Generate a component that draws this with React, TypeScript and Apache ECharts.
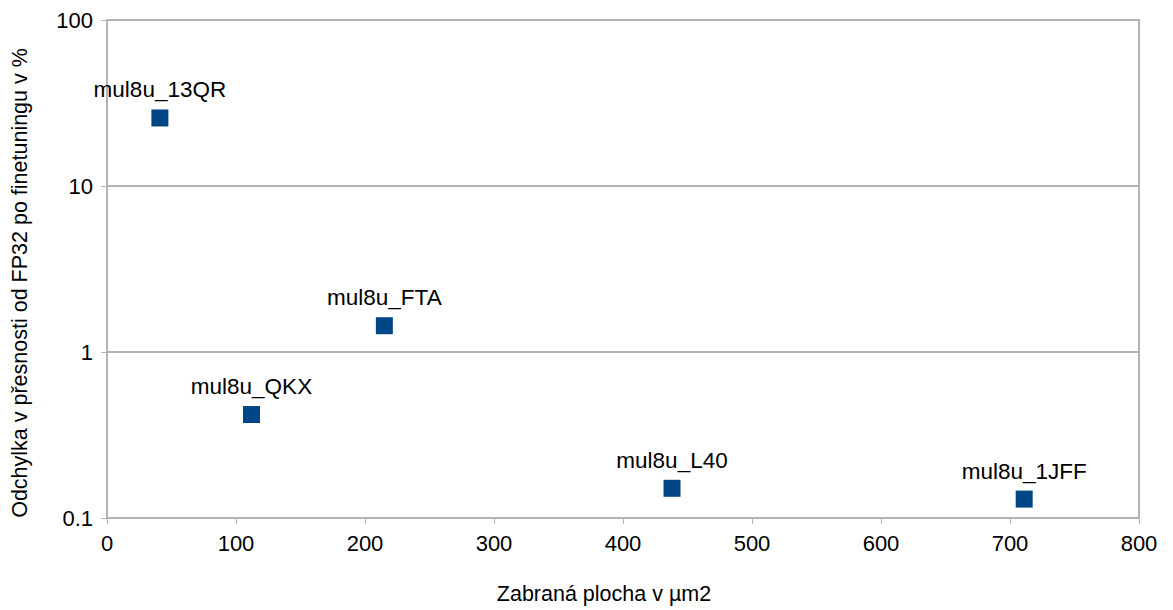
import React, { useEffect, useRef } from "react";
import * as echarts from "echarts";

// Multiplier variants: occupied area (µm2) vs. accuracy deviation after finetuning (%)
const names = ["mul8u_13QR", "mul8u_QKX", "mul8u_FTA", "mul8u_L40", "mul8u_1JFF"];
const areas = [41, 112, 215, 438, 711];
const deviations = [25.7, 0.42, 1.44, 0.151, 0.13];

const xTicks = { min: 0, max: 800, interval: 100 };
const yRange = { min: 0.1, max: 100 };

const xTitle = "Zabraná plocha v µm2";
const yTitle = "Odchylka v přesnosti od FP32 po finetuningu v %";

const FONT = "'Liberation Sans', Arial, sans-serif";
const GRID_GRAY = "#b3b3b3";

export default function App() {
  const ref = useRef<HTMLDivElement>(null);

  useEffect(() => {
    if (!ref.current) return;
    const chart = echarts.init(ref.current, undefined, { renderer: "svg" });
    const points = areas.map((a, i) => ({ value: [a, deviations[i]], name: names[i] }));
    chart.setOption({
      animation: false,
      backgroundColor: "#ffffff",
      textStyle: { fontFamily: FONT },
      grid: {
        left: 107,
        top: 20,
        right: 34,
        bottom: 92,
        show: true,
        borderColor: GRID_GRAY,
        borderWidth: 2,
        backgroundColor: "transparent",
      },
      graphic: [
        {
          type: "text",
          x: 604,
          y: 594,
          style: {
            text: xTitle,
            fontSize: 21.5,
            fill: "#000",
            fontFamily: FONT,
            align: "center",
            verticalAlign: "middle",
          },
        },
        {
          type: "text",
          x: 20,
          y: 283,
          rotation: Math.PI / 2,
          style: {
            text: yTitle,
            fontSize: 21.5,
            fill: "#000",
            fontFamily: FONT,
            align: "center",
            verticalAlign: "middle",
          },
        },
      ],
      xAxis: {
        type: "value",
        min: xTicks.min,
        max: xTicks.max,
        interval: xTicks.interval,
        axisLine: { show: true, lineStyle: { color: GRID_GRAY, width: 2 } },
        axisTick: { show: true, length: 6, lineStyle: { color: GRID_GRAY, width: 1 } },
        axisLabel: { fontSize: 22, color: "#000", margin: 14, fontFamily: FONT },
        splitLine: { show: false },
      },
      yAxis: {
        type: "log",
        logBase: 10,
        min: yRange.min,
        max: yRange.max,
        axisLine: { show: true, lineStyle: { color: GRID_GRAY, width: 2 } },
        axisTick: { show: true, length: 6, lineStyle: { color: GRID_GRAY, width: 1 } },
        axisLabel: {
          fontSize: 22,
          color: "#000",
          margin: 14,
          fontFamily: FONT,
          formatter: (v: number) => String(Number(v.toPrecision(3))),
        },
        splitLine: { show: true, lineStyle: { color: GRID_GRAY, width: 2 } },
      },
      series: [
        {
          type: "scatter",
          symbol: "rect",
          symbolSize: 17,
          itemStyle: { color: "#004586", opacity: 1 },
          emphasis: { disabled: true },
          data: points,
          label: {
            show: true,
            position: "top",
            distance: 8,
            formatter: (p: any) => p.name,
            fontSize: 22.5,
            color: "#000",
            fontFamily: FONT,
          },
        },
      ],
    });
    return () => chart.dispose();
  }, []);

  return (
    <div
      ref={ref}
      style={{ position: "absolute", left: 0, top: 0, width: 1173, height: 610, background: "#fff" }}
    />
  );
}
